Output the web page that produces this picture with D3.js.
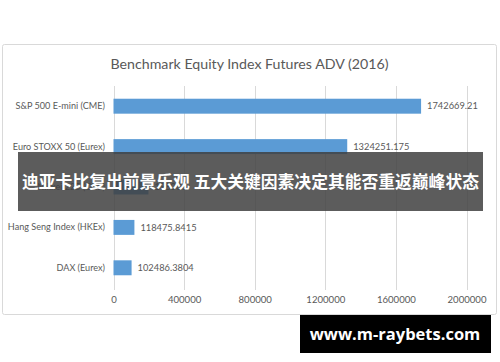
<!DOCTYPE html>
<html><head><meta charset="utf-8">
<script src="https://cdn.jsdelivr.net/npm/d3@7/dist/d3.min.js"></script>
<style>
html,body{margin:0;padding:0;background:#fff;}
svg{display:block;}
</style></head>
<body>
<svg id="c" width="500" height="362"></svg>
<script>
const categories = ["S&P 500 E-mini (CME)", "Euro STOXX 50 (Eurex)", "Nikkei 225 (OSE)", "Hang Seng Index (HKEx)", "DAX (Eurex)"];
const valueLabels = ["1742669.21", "1324251.175", "198000", "118475.8415", "102486.3804"];
const values = [1742669.21, 1324251.175, 198000, 118475.8415, 102486.3804];
const tickValues = [0, 400000, 800000, 1200000, 1600000, 2000000];
const title = "Benchmark Equity Index Futures ADV (2016)";
const bannerText = "迪亚卡比复出前景乐观 五大关键因素决定其能否重返巅峰状态";
const watermark = "www.m-raybets.com";

const svg = d3.select("#c");
const font = "Lato, 'Open Sans', 'Liberation Sans', sans-serif";
const textColor = "#595959";

// chart frame
svg.append("rect").attr("x", 2.5).attr("y", 44.5).attr("width", 494).attr("height", 270)
  .attr("fill", "#fff").attr("stroke", "#d9d9d9").attr("stroke-width", 1).attr("rx", 2);

svg.append("text").attr("x", 249.5).attr("y", 68.5).attr("text-anchor", "middle")
  .attr("font-family", font).attr("font-size", 14.2).attr("fill", textColor).text(title);

const x = d3.scaleLinear().domain([0, 2000000]).range([113.5, 466.5]);
const y = d3.scaleBand().domain(categories).range([86, 288]).paddingInner(0.63).paddingOuter(0.315);

// gridlines
svg.append("g").selectAll("line").data(tickValues).join("line")
  .attr("x1", d => Math.round(x(d)) + 0.5).attr("x2", d => Math.round(x(d)) + 0.5)
  .attr("y1", 86).attr("y2", 290).attr("stroke", "#d9d9d9").attr("stroke-width", 1);

// x axis labels
const xAxis = d3.axisBottom(x).tickValues(tickValues).tickSize(0).tickPadding(0).tickFormat(d3.format("d"));
const gx = svg.append("g").attr("transform", "translate(0,297)").call(xAxis);
gx.select(".domain").remove();
gx.selectAll("text").attr("font-family", font).attr("font-size", 9.6).attr("fill", textColor).attr("dy", "0.6em");

// bars
svg.append("g").selectAll("rect").data(categories).join("rect")
  .attr("x", x(0)).attr("y", d => y(d))
  .attr("width", (d, i) => x(values[i]) - x(0)).attr("height", y.bandwidth())
  .attr("fill", "#5b9bd5");

// category labels
const yAxis = d3.axisLeft(y).tickSize(0).tickPadding(0);
const gy = svg.append("g").attr("transform", "translate(105,0)").call(yAxis);
gy.select(".domain").remove();
gy.selectAll("text").attr("font-family", font).attr("font-size", 9.1).attr("fill", textColor);

// value labels
svg.append("g").selectAll("text").data(categories).join("text")
  .attr("x", (d, i) => x(values[i]) + 6).attr("y", d => y(d) + y.bandwidth() / 2)
  .attr("dy", "0.35em").attr("font-family", font).attr("font-size", 9.3).attr("fill", textColor)
  .text((d, i) => valueLabels[i]);

// banner overlay
svg.append("rect").attr("x", 18).attr("y", 152).attr("width", 465).attr("height", 59)
  .attr("fill", "rgb(63,63,63)").attr("fill-opacity", 0.85);
svg.append("text").attr("x", 250.5).attr("y", 181.5).attr("dy", "0.36em").attr("text-anchor", "middle")
  .attr("font-family", "'Noto Sans CJK SC', sans-serif").attr("font-weight", "bold")
  .attr("font-size", 16.8).attr("fill", "#fff").text(bannerText);

// watermark
svg.append("rect").attr("x", 300).attr("y", 315).attr("width", 191).attr("height", 38).attr("fill", "#000");
svg.append("text").attr("x", 395).attr("y", 334).attr("dy", "0.36em").attr("text-anchor", "middle")
  .attr("font-family", "'Open Sans', sans-serif").attr("font-weight", "bold")
  .attr("font-size", 16.5).attr("fill", "#fff").text(watermark);
</script>
</body></html>
